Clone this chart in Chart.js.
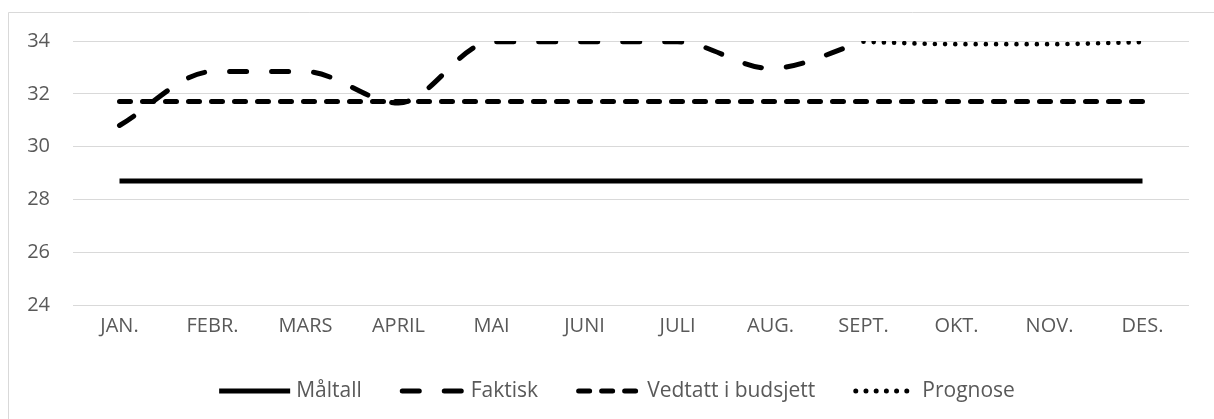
<!DOCTYPE html>
<html>
<head>
<meta charset="utf-8">
<script src="https://cdn.jsdelivr.net/npm/chart.js@4.4.1/dist/chart.umd.min.js"></script>
<style>
  html, body { margin: 0; padding: 0; background: #ffffff; }
  #wrap { width: 1214px; height: 419px; position: relative; }
  canvas { display: block; }
</style>
</head>
<body>
<div id="wrap"><canvas id="c" width="1214" height="419"></canvas></div>
<script>
// ---- data ----
const categories = ["JAN.", "FEBR.", "MARS", "APRIL", "MAI", "JUNI", "JULI", "AUG.", "SEPT.", "OKT.", "NOV.", "DES."];
const maltall   = [28.7, 28.7, 28.7, 28.7, 28.7, 28.7, 28.7, 28.7, 28.7, 28.7, 28.7, 28.7];
const faktisk   = [30.8, 32.84, 32.84, 31.65, 33.97, 33.97, 33.97, 32.96, 33.97, null, null, null];
const vedtatt   = [31.71, 31.71, 31.71, 31.71, 31.71, 31.71, 31.71, 31.71, 31.71, 31.71, 31.71, 31.71];
const prognose  = [null, null, null, null, null, null, null, null, 33.97, 33.88, 33.88, 33.96];
const yTicks    = [24, 26, 28, 30, 32, 34];
const seriesNames = ["Måltall", "Faktisk", "Vedtatt i budsjett", "Prognose"];

const FONT = "'Open Sans', 'Liberation Sans', sans-serif";
const TEXT = "#595959";
const GRID = "#d9d9d9";

const dashes = {
  "Måltall": [],
  "Faktisk": [17, 25],
  "Vedtatt i budsjett": [11, 12],
  "Prognose": [0, 10.2]
};

const frame = {
  id: 'frame',
  beforeDraw(chart) {
    const ctx = chart.ctx;
    ctx.save();
    ctx.fillStyle = '#ffffff';
    ctx.fillRect(0, 0, chart.width, chart.height);
    ctx.strokeStyle = GRID;
    ctx.lineWidth = 1;
    ctx.beginPath();
    ctx.moveTo(8.5, chart.height);
    ctx.lineTo(8.5, 12.5);
    ctx.lineTo(chart.width, 12.5);
    ctx.stroke();
    ctx.restore();
  }
};

const legendPlugin = {
  id: 'customLegend',
  afterDraw(chart) {
    const ctx = chart.ctx;
    ctx.save();
    ctx.font = "21px " + FONT;
    const sampleW = [71, 65, 65, 63];
    const gap = 6, itemGap = 38;
    const tw = seriesNames.map(n => ctx.measureText(n).width);
    let total = 0;
    seriesNames.forEach((n, i) => { total += sampleW[i] + gap + tw[i]; });
    total += itemGap * (seriesNames.length - 1);
    let x = 617 - total / 2;
    const y = 391;
    seriesNames.forEach((n, i) => {
      ctx.strokeStyle = '#000';
      ctx.lineWidth = 5;
      ctx.lineCap = dashes[n].length ? 'round' : 'butt';
      ctx.setLineDash(dashes[n]);
      ctx.beginPath();
      if (dashes[n].length) {
        ctx.moveTo(x + 2.5, y);
        ctx.lineTo(x + sampleW[i] - 2.5, y);
      } else {
        ctx.moveTo(x, y);
        ctx.lineTo(x + sampleW[i], y);
      }
      ctx.stroke();
      ctx.setLineDash([]);
      ctx.fillStyle = TEXT;
      ctx.textBaseline = 'middle';
      ctx.textAlign = 'left';
      ctx.fillText(n, x + sampleW[i] + gap, y);
      x += sampleW[i] + gap + tw[i] + itemGap;
    });
    ctx.restore();
  }
};

const common = { borderColor: '#000', borderWidth: 5, pointRadius: 0, pointHoverRadius: 0, fill: false, spanGaps: false };

new Chart(document.getElementById('c'), {
  type: 'line',
  data: {
    labels: categories,
    datasets: [
      Object.assign({}, common, { label: seriesNames[0], data: maltall, tension: 0, borderCapStyle: 'butt', order: 4 }),
      Object.assign({}, common, { label: seriesNames[1], data: faktisk, cubicInterpolationMode: 'monotone', borderDash: dashes["Faktisk"], borderCapStyle: 'round', order: 1 }),
      Object.assign({}, common, { label: seriesNames[2], data: vedtatt, tension: 0, borderDash: dashes["Vedtatt i budsjett"], borderCapStyle: 'round', order: 3 }),
      Object.assign({}, common, { label: seriesNames[3], data: prognose, cubicInterpolationMode: 'monotone', borderDash: dashes["Prognose"], borderCapStyle: 'round', borderWidth: 4.6, order: 2 })
    ]
  },
  options: {
    responsive: false,
    animation: false,
    devicePixelRatio: 1,
    layout: { padding: { top: 41, right: 25, left: 0, bottom: 0 } },
    plugins: { legend: { display: false }, tooltip: { enabled: false } },
    scales: {
      x: {
        type: 'category',
        offset: true,
        grid: { display: false, drawTicks: false },
        border: { display: false },
        ticks: { color: TEXT, font: { family: FONT, size: 20 }, padding: 9, maxRotation: 0, autoSkip: false },
        afterFit(scale) { scale.height = 114; }
      },
      y: {
        min: 24, max: 34,
        afterBuildTicks(scale) { scale.ticks = yTicks.map(v => ({ value: v })); },
        grid: { color: GRID, lineWidth: 1, drawTicks: false },
        border: { display: false },
        ticks: { color: TEXT, font: { family: FONT, size: 20 }, padding: 23 },
        afterFit(scale) { scale.width = 73; }
      }
    }
  },
  plugins: [frame, legendPlugin]
});
</script>
</body>
</html>
